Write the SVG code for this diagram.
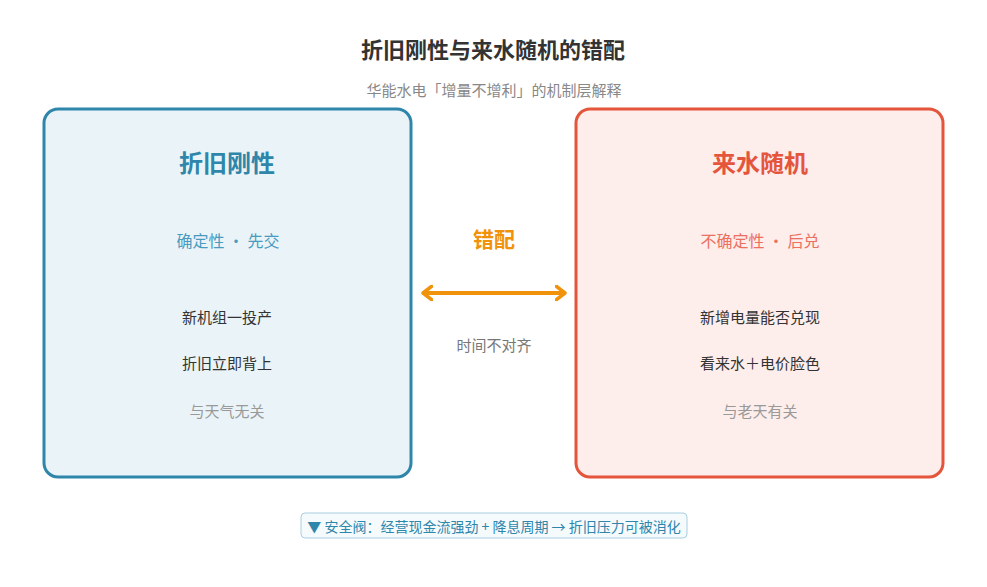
<svg xmlns="http://www.w3.org/2000/svg" width="987" height="587" viewBox="0 0 987 587">
<style>
text{font-family:"Noto Sans CJK SC","Noto Sans",sans-serif;text-anchor:middle;dominant-baseline:central}
.title{font-size:22px;font-weight:700;fill:#333}
.sub{font-size:15px;fill:#888}
.h{font-size:24px;font-weight:700}
.s{font-size:16px}
.b{font-size:15px;fill:#333}
.g{font-size:15px;fill:#999}
</style>
<defs>
<marker id="ah" viewBox="0 0 12 16" refX="10" refY="8" markerWidth="12" markerHeight="16" markerUnits="userSpaceOnUse" orient="auto-start-reverse">
<path d="M1,1 L10,8 L1,15" fill="none" stroke="#F0920A" stroke-width="3.5" stroke-linecap="round" stroke-linejoin="round"/>
</marker>
</defs>
<rect width="987" height="587" fill="#fff"/>
<text class="title" x="493" y="48">折旧刚性与来水随机的错配</text>
<text class="sub" x="494" y="89">华能水电「增量不增利」的机制层解释</text>
<g id="left">
<rect x="44" y="109" width="367" height="368" rx="14" fill="#EAF4F8" stroke="#2E86AB" stroke-width="3"/>
<text class="h" x="227" y="161" fill="#2E86AB">折旧刚性</text>
<text class="s" x="228" y="240" fill="#4A9AC0">确定性 · 先交</text>
<text class="b" x="227" y="316">新机组一投产</text>
<text class="b" x="227" y="362">折旧立即背上</text>
<text class="g" x="227" y="410">与天气无关</text>
</g>
<g id="right">
<rect x="576" y="109" width="367" height="368" rx="14" fill="#FDEDEB" stroke="#E4553B" stroke-width="3"/>
<text class="h" x="760" y="161" fill="#E4553B">来水随机</text>
<text class="s" x="760" y="240" fill="#EC7060">不确定性 · 后兑</text>
<text class="b" x="760" y="316">新增电量能否兑现</text>
<text class="b" x="760" y="362">看来水＋电价脸色</text>
<text class="g" x="760" y="410">与老天有关</text>
</g>
<g id="connectors">
<line x1="423" y1="293" x2="565" y2="293" stroke="#F0920A" stroke-width="4" marker-start="url(#ah)" marker-end="url(#ah)"/>
<text x="494" y="238" font-size="21" font-weight="700" fill="#F0920A">错配</text>
<text x="494" y="344" font-size="15" fill="#777">时间不对齐</text>
</g>
<g id="note">
<rect x="301" y="513" width="386" height="25" rx="4" fill="#F5FAFD" stroke="#A9CFE0" stroke-width="1"/>
<text x="494" y="525.5" font-size="14" fill="#2E86AB">▼ 安全阀：经营现金流强劲 + 降息周期 → 折旧压力可被消化</text>
</g>
</svg>
